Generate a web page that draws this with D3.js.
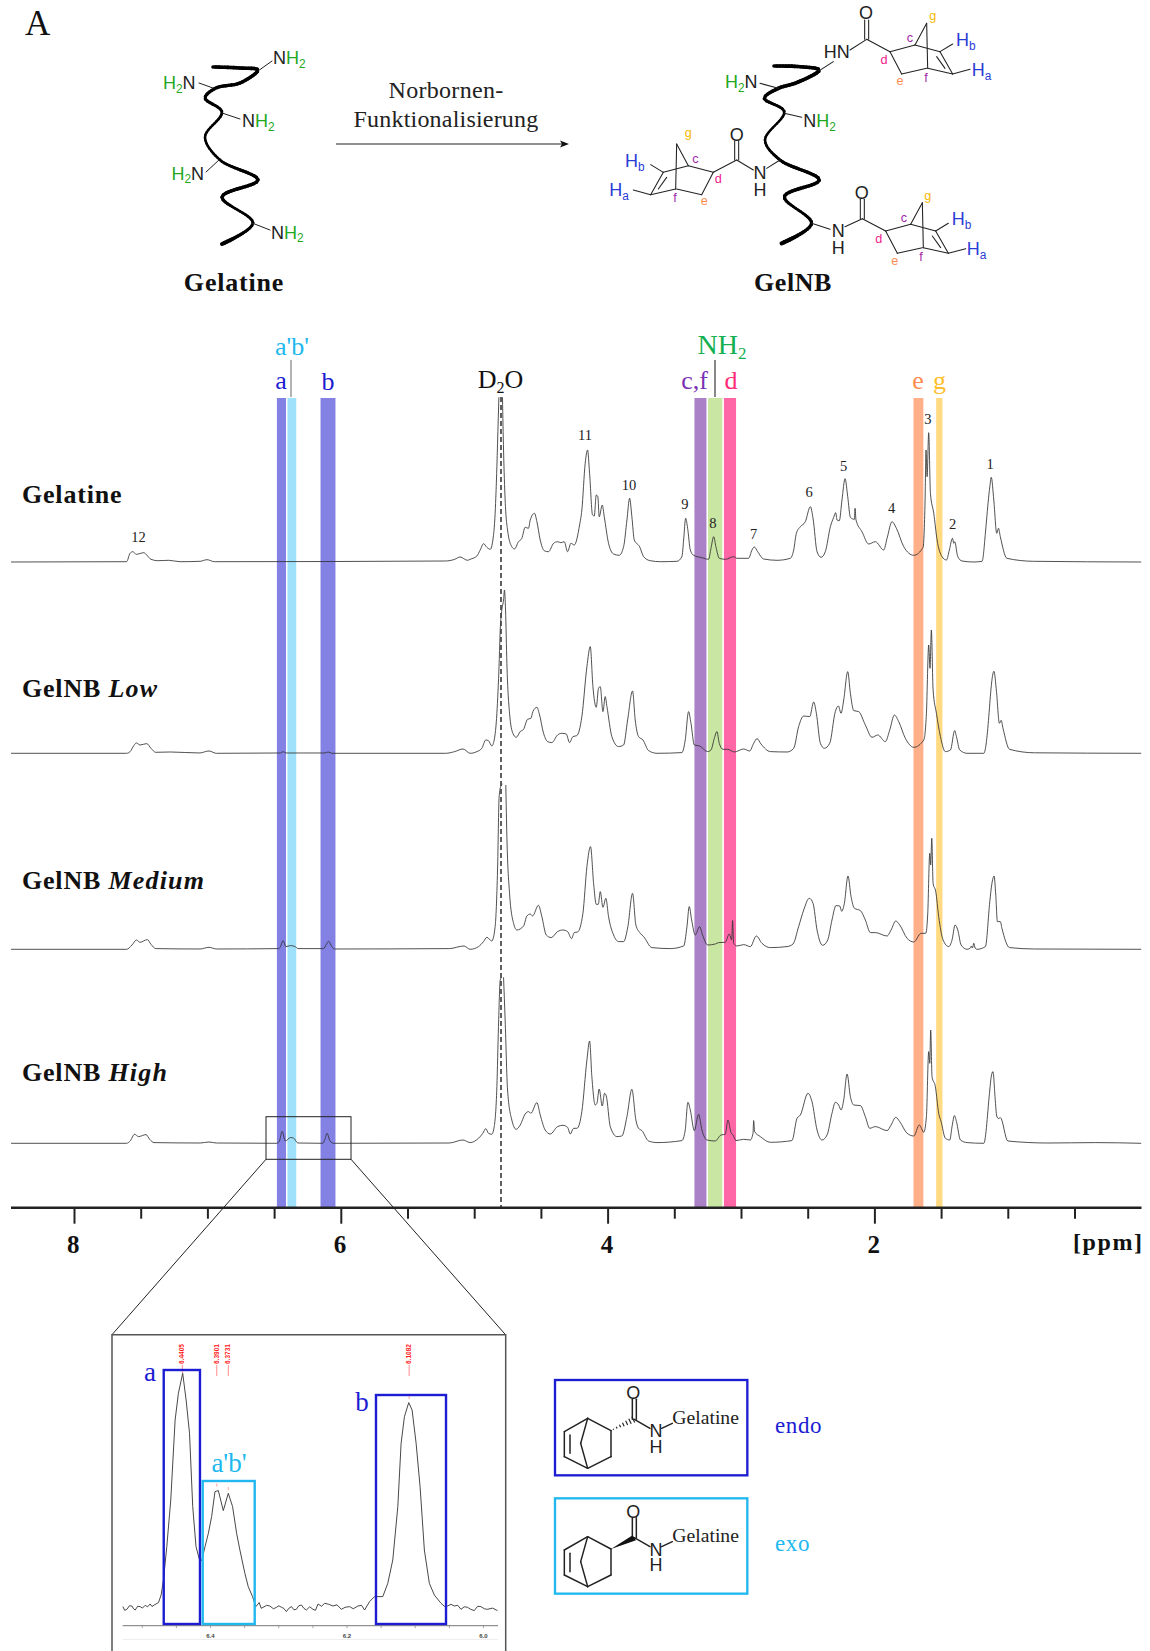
<!DOCTYPE html>
<html>
<head>
<meta charset="utf-8">
<title>GelNB NMR</title>
<script src="https://cdn.jsdelivr.net/npm/d3@7"></script>
<style>
  body { margin: 0; background: #fff; }
  svg { display: block; }
  text { font-family: "Liberation Serif", serif; }
  .chem text { font-family: "Liberation Sans", Arial, sans-serif; }
</style>
</head>
<body>
<script>
// chemical shift [ppm], intensity
// (a null intensity is a gap, the water peak is cut off at the top)
var gelatineSpectrum = [[8.472,0],[7.606,.3],[7.58,8.7],[7.56,10.3],[7.532,7.7],[7.477,9.3],[7.455,7],[7.423,2.7],[7.372,1.3],[7.29,1.7],[7.205,.3],[7.055,.7],[7.003,2.3],[6.947,.3],[5.215,1],[5.146,2.7],[5.106,5],[5.05,1.7],
[5.03,2.7],[4.98,6],[4.955,12],[4.93,18.3],[4.905,14.7],[4.88,12.7],[4.86,22],[4.843,48.7],[4.83,95.3],[4.82,142],[4.815,164.7],[4.8,null],[4.788,164.7],[4.78,112],[4.768,62],[4.75,32],[4.718,15.3],[4.698,13],[4.668,20.3],[4.643,23.7],[4.618,34.7],[4.593,33.7],[4.58,42],[4.548,48.7],[4.53,40.3],[4.505,22],[4.475,11.3],[4.443,10.3],[4.405,18.7],[4.375,20.3],[4.35,19.3],[4.325,20.3],[4.3,10.3],[4.275,18.7],[4.25,17],[4.21,37],[4.193,52],[4.168,98.7],[4.15,112],[4.135,88.7],[4.113,47],[4.1,46],[4.085,67],[4.073,65.3],[4.063,45.3],[4.04,57],[4.025,45.3],[3.993,18.7],[3.955,8],[3.913,6.7],[3.88,15.3],[3.855,42],[3.835,63.7],[3.818,45.3],[3.8,22],[3.76,15.3],[3.73,5.3],[3.68,1.3],[3.605,.3],[3.48,.7],[3.443,5.3],[3.43,22],[3.415,43.7],[3.4,33.7],[3.38,12],[3.355,6.7],[3.293,4.3],[3.243,2.7],[3.225,13.7],[3.205,25.3],[3.188,15.3],[3.163,3.7],[3.118,2.7],[3.055,5.3],[3.03,3.7],[2.943,3.7],[2.918,12],[2.9,15],[2.875,10.3],[2.83,3],[2.73,1.7],[2.63,3.7],[2.605,12],[2.585,28.7],[2.555,35.3],[2.518,40.3],[2.48,55.3],[2.46,43.7],[2.43,10.3],[2.4,4.7],[2.368,10.3],[2.33,35.3],[2.305,44.7],[2.29,49.3],[2.28,42],[2.263,41.3],[2.243,62],[2.22,83.3],[2.2,65.3],[2.18,44.7],[2.15,42.7],[2.145,53.7],[2.138,42],[2.093,30.3],[2.043,18],[1.993,20.3],[1.93,12],[1.905,23.7],[1.868,40.3],[1.835,33.7],[1.78,15.3],[1.705,6.7],[1.635,14.7],[1.62,62],[1.613,112],[1.605,85.3],[1.593,129.3],[1.58,68.7],[1.555,48.7],[1.53,22],[1.493,5.3],[1.46,2],[1.438,12],[1.415,23.7],[1.405,18.7],[1.398,20.3],[1.375,5.3],[1.343,1],[1.255,0],[1.193,.7],[1.168,28.7],[1.16,41],[1.135,75],[1.124,84.7],[1.105,62],[1.083,28.7],[1.07,33.7],[1.056,25.3],[1.007,3.7],[.808,.7],[0,0]];

var lowSpectrum = [[8.472,0],[7.606,0],[7.579,1.7],[7.552,7.7],[7.532,10.3],[7.505,8.3],[7.455,9.7],[7.423,5],[7.387,1],[7.277,1.3],[7.055,.3],[7.015,1.7],[6.988,2.3],[6.933,0],[6.452,.3],[6.433,1.7],[6.411,.3],[6.122,.3],[6.094,1.3],[6.067,0],[5.215,0],[5.146,1.7],[5.084,4.3],
[5.03,0],[4.98,1.7],[4.943,5],[4.913,13.3],[4.893,12.7],[4.868,7.3],[4.85,13.3],[4.83,40],[4.813,90],[4.805,123.3],[4.793,143.3],[4.78,153.3],[4.773,163.3],[4.765,143.3],[4.755,90],[4.735,40],[4.71,20],[4.685,16],[4.655,21.7],[4.63,24],[4.6,34],[4.575,35],[4.56,41.7],[4.53,46],[4.513,40],[4.48,20],[4.45,11.7],[4.418,10.7],[4.375,18.3],[4.343,20],[4.31,19.3],[4.285,10.7],[4.26,16.7],[4.23,17.7],[4.193,36.7],[4.155,86.7],[4.13,106.7],[4.11,66.7],[4.085,46],[4.068,65],[4.055,66.7],[4.035,41.7],[4.018,56.7],[4.005,46.7],[3.968,16.7],[3.918,6.7],[3.88,8.3],[3.85,33.3],[3.813,62.3],[3.793,33.3],[3.768,16.7],[3.735,13.3],[3.693,2.7],[3.63,0],[3.443,.7],[3.418,13.3],[3.393,41.7],[3.375,30],[3.35,8.3],[3.31,7.3],[3.25,1.7],[3.225,3.3],[3.2,15],[3.18,21.7],[3.163,10],[3.135,4],[3.1,4],[3.05,1.3],[2.98,4.3],[2.935,2.3],[2.905,10],[2.88,14.7],[2.85,9.3],[2.78,1.7],[2.655,1.3],[2.605,5],[2.568,26.7],[2.53,37.3],[2.485,36.7],[2.455,51.3],[2.435,40],[2.405,10],[2.375,5],[2.335,10],[2.293,41.7],[2.27,47.3],[2.25,40],[2.23,53.3],[2.2,81.7],[2.18,60],[2.155,42.7],[2.118,41.7],[2.068,28.3],[2.018,16],[1.975,18.3],[1.918,11.7],[1.885,23.3],[1.85,38.3],[1.818,31.7],[1.768,15],[1.705,6],[1.63,13.3],[1.61,40],[1.593,108.3],[1.583,85],[1.573,123.3],[1.56,63.3],[1.535,40],[1.505,16.7],[1.468,1.7],[1.43,3.3],[1.398,22.7],[1.385,16.7],[1.36,3.3],[1.305,0],[1.18,0],[1.14,41],[1.135,50],[1.104,82],[1.085,62],[1.063,30],[1.05,33],[1.036,25],[.987,4],[.8,.5],[0,0]];

var mediumSpectrum = [[8.472,0],[7.606,0],[7.565,4.3],[7.532,9.3],[7.505,7],[7.45,9.7],[7.423,5],[7.387,.7],[7.055,.3],[6.988,2],[6.933,.3],[6.465,.7],[6.452,2.7],[6.433,8.7],[6.411,2.7],[6.378,3.7],[6.342,2.7],[6.322,.7],[6.13,.7],[6.108,5],[6.092,8],[6.067,2.7],[6.048,.3],[5.187,.7],[5.077,3.3],
[5.03,0],[4.968,2.7],[4.93,7.7],[4.905,12],[4.868,8.3],[4.843,22.7],[4.825,79.3],[4.813,152.7],[4.8,163.3],[4.788,165.3],[4.775,null],[4.763,164.3],[4.755,112.7],[4.735,56],[4.705,26],[4.68,19.3],[4.63,23.3],[4.605,33.3],[4.58,35.3],[4.563,33.3],[4.518,44],[4.493,32.7],[4.46,14.3],[4.423,11.7],[4.375,17.7],[4.335,19.3],[4.3,17.7],[4.27,10.7],[4.25,16.7],[4.225,17.3],[4.185,36],[4.155,82.7],[4.128,102.7],[4.105,66],[4.085,45],[4.07,45],[4.055,57.7],[4.035,42],[4.013,51],[3.993,32.7],[3.955,14.3],[3.918,7.7],[3.88,7.7],[3.848,22.7],[3.813,56],[3.788,24.3],[3.755,16],[3.73,12.7],[3.668,1.7],[3.53,.7],[3.43,3.3],[3.405,22.7],[3.388,42.7],[3.37,29.3],[3.343,14.3],[3.31,22.7],[3.288,14.3],[3.25,4.3],[3.193,5.3],[3.168,6.7],[3.118,7],[3.088,15.3],[3.07,9.3],[3.063,28.7],[3.055,6],[3.03,3.3],[2.98,4.7],[2.93,2.7],[2.885,13.3],[2.843,6],[2.78,1.7],[2.655,2.7],[2.61,5.3],[2.568,22.7],[2.53,39.3],[2.488,51],[2.46,46],[2.43,19.3],[2.388,4],[2.35,9.3],[2.318,29.3],[2.288,43.7],[2.26,43.3],[2.245,38],[2.225,46],[2.198,73.3],[2.175,52.7],[2.15,41],[2.105,38.7],[2.068,29.3],[2.03,16.7],[1.993,16.7],[1.905,13.3],[1.875,19.3],[1.84,28.3],[1.81,24.3],[1.755,11],[1.705,7.3],[1.65,16],[1.615,16],[1.6,36],[1.585,96],[1.578,84.3],[1.57,111],[1.56,66],[1.54,57.7],[1.518,32.7],[1.485,9.3],[1.443,2.7],[1.418,9.3],[1.395,24.3],[1.375,19.3],[1.35,4.3],[1.305,0],[1.28,1.3],[1.273,3.3],[1.265,1.3],[1.255,6],[1.245,1.3],[1.23,0],[1.168,2.7],[1.135,47.7],[1.12,65],[1.103,73.3],[1.09,54],[1.078,27.7],[1.056,27.7],[1.044,21],[.987,1.7],[.8,.3],[0,0]];

var highSpectrum = [[8.472,0],[7.606,0],[7.579,2.3],[7.546,9],[7.516,6.7],[7.46,8.7],[7.433,4],[7.4,.7],[7.055,.3],[6.988,1.3],[6.933,.3],[6.479,0],[6.46,2.3],[6.44,12],[6.416,2.3],[6.378,5.7],[6.355,5.3],[6.322,.3],[6.136,0],[6.119,4],[6.103,10],[6.081,2.3],[6.053,0],[5.187,.3],[5.085,3.3],
[5.03,.7],[4.968,5],[4.935,10],[4.913,14.7],[4.893,10],[4.868,9],[4.85,16.7],[4.83,56.7],[4.818,116.7],[4.805,163.3],[4.795,166],[4.788,null],[4.78,166],[4.768,123.3],[4.75,53.3],[4.718,23.3],[4.685,14],[4.655,18.3],[4.618,29.3],[4.593,31.7],[4.575,30],[4.53,40.7],[4.505,28.3],[4.468,13.3],[4.43,9.3],[4.375,16.7],[4.335,18],[4.3,16],[4.28,9.3],[4.255,15],[4.23,15],[4.193,31.7],[4.155,83.3],[4.135,102.3],[4.118,66.7],[4.093,38.3],[4.08,40],[4.063,54.3],[4.04,37.3],[4.023,50],[4.01,47.3],[3.98,16.7],[3.93,6.7],[3.893,7.3],[3.855,26.7],[3.818,54],[3.788,23.3],[3.768,15],[3.743,12.7],[3.693,2.3],[3.63,.7],[3.443,2.7],[3.418,13.3],[3.398,41],[3.38,33.3],[3.35,12.7],[3.318,29],[3.293,13.3],[3.255,3.3],[3.193,2.3],[3.15,8.3],[3.118,9],[3.098,23.3],[3.075,10.7],[3.06,8.3],[3.038,2.7],[2.98,4],[2.93,3.3],[2.91,10],[2.905,22.7],[2.898,11.7],[2.855,6.7],[2.78,1],[2.618,2.7],[2.58,25],[2.555,28.3],[2.498,50],[2.468,41.7],[2.43,13.3],[2.393,3.3],[2.355,8.3],[2.318,30],[2.293,41],[2.268,38.3],[2.25,33.3],[2.23,43.3],[2.205,69.3],[2.18,46.7],[2.155,38.3],[2.105,37.7],[2.068,26.7],[2.035,15],[1.993,16.7],[1.905,12.7],[1.875,18.3],[1.84,26],[1.81,21.7],[1.755,10],[1.705,7.3],[1.663,18.3],[1.63,11],[1.61,26.7],[1.593,91.7],[1.585,80],[1.578,113.3],[1.568,66.7],[1.543,56.7],[1.518,30],[1.5,21.7],[1.468,5],[1.435,3.3],[1.418,16.7],[1.4,27.7],[1.385,21.7],[1.355,3.3],[1.305,.7],[1.18,0],[1.135,53.3],[1.125,66],[1.111,71.7],[1.095,45],[1.083,27.3],[1.07,24.7],[1.056,25.7],[1,2.3],[.7,.3],[.34,.7],[0,0]];

var spectra = [gelatineSpectrum, lowSpectrum, mediumSpectrum, highSpectrum];

// assigned regions
var bandNames = ["a", "a'b'", "b", "c,f", "NH2", "d", "e", "g"];
var bandFrom = [6.479, 6.4, 6.152, 3.349, 3.247, 3.128, 1.707, 1.537];
var bandTo = [6.411, 6.334, 6.04, 3.259, 3.14, 3.037, 1.633, 1.49];
var bandColors = ["#8381e4", "#9fe1fa", "#8381e4", "#aa80c6", "#c9e6a2", "#ff66a6", "#ffb089", "#ffda80"];

// numbered peaks
var peakLabels = ["12", "11", "10", "9", "8", "7", "6", "5", "4", "3", "2", "1"];
var peakPpm = [7.516, 4.17, 3.84, 3.42, 3.21, 2.905, 2.49, 2.23, 1.87, 1.6, 1.413, 1.133];
var peakHeights = [20, 122, 72, 53, 34, 23, 65.3, 91, 49, 138, 33, 93];

var axisTicks = [8, 7.5, 7, 6.5, 6, 5.5, 5, 4.5, 4, 3.5, 3, 2.5, 2, 1.5, 1, .5];
var majorTicks = [8, 6, 4, 2];

// inset, the region around the norbornene protons in GelNB High
var insetSpectrum = [[6.5276,.7],[6.525,-3],[6.5218,-2],[6.518,1.5],[6.5144,1.3],[6.512,-1.5],[6.5096,-2.7],[6.506,1],[6.5023,.7],[6.499,-.8],[6.495,2],[6.4915,.5],[6.4877,3.3],[6.485,.8],[6.4818,2.3],[6.4755,4.7],[6.4716,12.3],[6.4682,27.3],[6.4633,60.7],[6.4575,107.3],[6.4511,187.3],[6.4463,214],[6.44,234],[6.435,207.3],[6.43,174],[6.4253,100.7],[6.4205,60.7],[6.4156,48],[6.4122,46.7],[6.4073,60.7],[6.4024,74],[6.3976,90.7],[6.3927,115.7],[6.3878,116.7],[6.3805,96.7],[6.3732,114],[6.3669,100.7],[6.361,74],[6.3562,57.3],[6.3489,34],[6.344,20.7],[6.3377,10.7],[6.3328,.7],[6.3279,4.7],[6.325,-1],[6.3221,0],[6.317,2],[6.3123,1.3],[6.307,-1.5],[6.3026,0],[6.299,1.5],[6.2953,0],[6.292,-1],[6.288,-4.3],[6.2845,-1],[6.2807,.7],[6.277,-2.5],[6.2734,-2],[6.27,1.5],[6.266,2.3],[6.2625,-1],[6.2588,-2.7],[6.254,.5],[6.249,-2],[6.2455,-3],[6.2417,3.3],[6.2365,1],[6.232,4],[6.226,3],[6.2198,1.3],[6.214,2.5],[6.2076,-2],[6.202,0],[6.1955,.7],[6.19,-1.5],[6.1833,1.3],[6.178,2],[6.1735,-2.7],[6.1662,5.7],[6.1589,10.7],[6.1468,10.7],[6.1395,24],[6.1322,47.3],[6.1248,100.7],[6.12,164],[6.1151,190.7],[6.1088,204.7],[6.1039,197.3],[6.098,164],[6.0922,120.7],[6.0859,57.3],[6.0786,24],[6.0713,12.3],[6.0615,4],[6.0565,1],[6.0518,1.3],[6.047,3],[6.042,1.3],[6.037,2],[6.0323,-2],[6.0275,.5],[6.0226,0],[6.018,-2],[6.0128,-3.3],[6.008,1],[6.0031,.7],[5.998,-1.5],[5.9934,-2],[5.986,-.8],[5.9788,-3.3]];
var insetTicks = [6.5, 6.45, 6.4, 6.35, 6.3, 6.25, 6.2, 6.15, 6.1, 6.05, 6];
var insetPeaks = [6.4405, 6.3901, 6.3731, 6.1082];

var blue = "#1c1cd2", cyan = "#20b8ee", atomGreen = "#22a81e", atomBlue = "#2a3cd6",
    purple = "#a01fa8", pink = "#f0208c", orange = "#ff8c50", yellow = "#f8b800";

var svg = d3.select("body").append("svg").attr("width", 1150).attr("height", 1651);

// ---- main spectra ----
var x = d3.scaleLinear().domain([8, 0]).range([74, 1141.2]);
var y = d3.scaleLinear().domain([0, 170]).range([0, -170]);
var baselines = [562, 753.3, 949.3, 1143.3];
var axisY = 1207.7;

svg.append("g").selectAll("rect")
  .data(bandNames)
  .join("rect")
    .attr("x", (d, i) => x(bandFrom[i]))
    .attr("y", 398)
    .attr("width", (d, i) => x(bandTo[i]) - x(bandFrom[i]))
    .attr("height", axisY - 398)
    .attr("fill", (d, i) => bandColors[i]);

var line = d3.line()
  .defined(d => d[1] !== null)
  .curve(d3.curveMonotoneX)
  .x(d => x(d[0])).y(d => y(d[1]));

svg.append("g").selectAll("path")
  .data(spectra)
  .join("path")
    .attr("transform", (d, i) => "translate(0," + baselines[i] + ")")
    .attr("d", line)
    .attr("fill", "none")
    .attr("stroke", "#333")
    .attr("stroke-opacity", .85)
    .attr("stroke-width", 1);

// water line
svg.append("line")
  .attr("x1", 501).attr("x2", 501).attr("y1", 397).attr("y2", axisY)
  .attr("stroke", "#444").attr("stroke-width", 1.7).attr("stroke-dasharray", "5,3");

// axis
var axisG = svg.append("g")
  .attr("transform", "translate(0," + axisY + ")")
  .call(d3.axisBottom(x).tickValues(axisTicks).tickSize(10).tickFormat(d => majorTicks.includes(d) ? d : ""));
axisG.select(".domain").remove();
axisG.append("line").attr("x1", 11).attr("x2", 1141.5).attr("stroke", "#222").attr("stroke-width", 2.4);
axisG.selectAll(".tick line")
  .attr("y2", d => majorTicks.includes(d) ? 16 : 11)
  .attr("stroke", "#222").attr("stroke-width", 2);
axisG.selectAll(".tick text")
  .attr("x", -1.2).attr("y", 29).attr("dy", 16)
  .attr("font-size", 25).attr("font-weight", "bold").attr("fill", "#111");

svg.append("text").attr("x", 1073).attr("y", 1250)
  .attr("font-size", 24).attr("font-weight", "bold").attr("letter-spacing", 1.6).attr("fill", "#111")
  .text("[ppm]");

// numbers above peaks
svg.append("g").selectAll("text")
  .data(peakLabels)
  .join("text")
    .attr("x", (d, i) => x(peakPpm[i]))
    .attr("y", (d, i) => baselines[0] + y(peakHeights[i]))
    .attr("text-anchor", "middle")
    .attr("font-size", 14.5)
    .attr("fill", "#222")
    .text(d => d);

// spectrum names
var names = [["Gelatine", "", 503], ["GelNB ", "Low", 696.5], ["GelNB ", "Medium", 889], ["GelNB ", "High", 1081]];
names.forEach(function(n) {
  var t = svg.append("text").attr("x", 22).attr("y", n[2])
    .attr("font-size", 26).attr("font-weight", "bold").attr("letter-spacing", .8).attr("fill", "#111");
  t.append("tspan").text(n[0]);
  t.append("tspan").attr("font-style", "italic").attr("letter-spacing", 1.2).text(n[1]);
});

// header labels over the bands
function headLabel(txt, cx, by, color) {
  return svg.append("text").attr("x", cx).attr("y", by).attr("text-anchor", "middle")
    .attr("font-size", 26).attr("fill", color).text(txt);
}
headLabel("a'b'", 292, 355, cyan);
headLabel("a", 281, 389, blue);
headLabel("b", 328, 389.5, blue);
headLabel("c,f", 694.5, 389, "#7a30b4");
headLabel("d", 731, 389, "#ff2a78");
headLabel("e", 918, 389, orange);
headLabel("g", 939.5, 389, "#ffc030");

var d2o = svg.append("text").attr("x", 500.5).attr("y", 387.5).attr("text-anchor", "middle")
  .attr("font-size", 26).attr("fill", "#111");
d2o.append("tspan").text("D");
d2o.append("tspan").attr("font-size", 16).attr("dy", 5).text("2");
d2o.append("tspan").attr("dy", -5).text("O");

var nh2 = svg.append("text").attr("x", 722).attr("y", 354).attr("text-anchor", "middle")
  .attr("font-size", 28).attr("fill", "#12b050");
nh2.append("tspan").text("NH");
nh2.append("tspan").attr("font-size", 17).attr("dy", 5).text("2");

[[291, .9], [715, 1.4]].forEach(function(p) {
  svg.append("line").attr("x1", p[0]).attr("x2", p[0]).attr("y1", 360).attr("y2", 397)
    .attr("stroke", "#555").attr("stroke-width", p[1]);
});

// box and the lines to the inset
svg.append("rect").attr("x", 266).attr("y", 1116.7).attr("width", 85).attr("height", 42.6)
  .attr("fill", "none").attr("stroke", "#222").attr("stroke-width", 1);
[[266, 112], [351, 505.5]].forEach(function(p) {
  svg.append("line").attr("x1", p[0]).attr("y1", 1159.3).attr("x2", p[1]).attr("y2", 1334.7)
    .attr("stroke", "#222").attr("stroke-width", 1);
});

// ---- inset ----
var ix = d3.scaleLinear().domain([6.4, 6]).range([210, 483]);
var iy = d3.scaleLinear().domain([0, 240]).range([1607.3, 1367.3]);
var inset = svg.append("g");

inset.append("path")
  .attr("d", "M112,1651V1334.7H505.7V1651")
  .attr("fill", "none").attr("stroke", "#555").attr("stroke-width", 1.5);

inset.append("path")
  .datum(insetSpectrum)
  .attr("d", d3.line().x(d => ix(d[0])).y(d => iy(d[1])))
  .attr("fill", "none").attr("stroke", "#333").attr("stroke-width", .9);

var insetAxis = inset.append("g").attr("transform", "translate(0,1625.7)")
  .call(d3.axisBottom(ix).tickValues(insetTicks).tickSize(2.5)
    .tickFormat(d => [6.4, 6.2, 6].includes(d) ? d3.format(".1f")(d) : ""));
insetAxis.select(".domain").remove();
insetAxis.append("line").attr("x1", 122.7).attr("x2", 498).attr("stroke", "#777").attr("stroke-width", 1);
insetAxis.selectAll(".tick line").attr("stroke", "#888").attr("stroke-width", .7);
insetAxis.selectAll(".tick text").attr("y", 7).attr("dy", 5)
  .attr("font-size", 6).attr("font-weight", "bold").style("font-family", "Liberation Sans").attr("fill", "#444");
inset.append("line").attr("x1", 122.7).attr("x2", 498).attr("y1", 1639.5).attr("y2", 1639.5)
  .attr("stroke", "#eee").attr("stroke-width", 1);

var peakTops = [1373, 1489.5, 1493, 1402];
insetPeaks.forEach(function(p, i) {
  var px = ix(p);
  inset.append("line").attr("x1", px).attr("x2", px).attr("y1", 1365).attr("y2", i == 0 ? 1373 : 1376)
    .attr("stroke", "#ff5a5a").attr("stroke-width", .7);
  if (i > 0) {
    inset.append("line").attr("x1", px).attr("x2", px).attr("y1", peakTops[i] - 6).attr("y2", peakTops[i] - 3)
      .attr("stroke", "#ff7a7a").attr("stroke-width", .7);
  }
  inset.append("text").attr("transform", "translate(" + (px + 2) + ",1364) rotate(-90)")
    .attr("font-size", 6.5).attr("font-weight", "bold").style("font-family", "Liberation Sans")
    .attr("fill", "#ff2020").text(p.toFixed(4));
});

// boxes around the peaks: ppm left, ppm right, top, colour
var insetBoxes = [[6.4678, 6.4147, 1370, blue], [6.4107, 6.3345, 1481, cyan], [6.1568, 6.0542, 1395, blue]];
insetBoxes.forEach(function(b) {
  inset.append("rect").attr("x", ix(b[0])).attr("y", b[2])
    .attr("width", ix(b[1]) - ix(b[0])).attr("height", 1624 - b[2])
    .attr("fill", "none").attr("stroke", b[3]).attr("stroke-width", 2.4);
});
[["a", 150, 1381, blue], ["a'b'", 229, 1471.5, cyan], ["b", 362, 1411, blue]].forEach(function(l) {
  inset.append("text").attr("x", l[1]).attr("y", l[2]).attr("text-anchor", "middle")
    .attr("font-size", 27).attr("fill", l[3]).text(l[0]);
});

// ---- structures ----
function bonds(g, list, w) {
  g.selectAll(null).data(list).join("line")
    .attr("x1", d => d[0]).attr("y1", d => d[1]).attr("x2", d => d[2]).attr("y2", d => d[3])
    .attr("stroke", "#222").attr("stroke-width", w).attr("stroke-linecap", "round");
}

// parts: text, colour, is subscript
function atoms(g, tx, ty, parts, size, anchor) {
  var t = g.append("text").attr("x", tx).attr("y", ty).attr("font-size", size)
    .attr("text-anchor", anchor || "start");
  var down = false;
  parts.forEach(function(p) {
    var s = t.append("tspan").attr("fill", p[1]).text(p[0]);
    if (p[2]) { s.attr("font-size", size * .66).attr("dy", size * .22); down = true; }
    else if (down) { s.attr("dy", -size * .22); down = false; }
  });
}

// backbone with changing thickness
function chain(g, pts, widths) {
  var p = g.append("path").attr("fill", "none").attr("stroke", "none")
    .attr("d", d3.line().curve(d3.curveCatmullRom.alpha(.5))(pts));
  var node = p.node(), len = node.getTotalLength(), n = 120;
  var w = d3.scaleLinear().domain(widths.map((d, i) => i / (widths.length - 1))).range(widths);
  for (var i = 0; i < n; i++) {
    var a = node.getPointAtLength(len * i / n), b = node.getPointAtLength(len * (i + 1) / n);
    g.append("line").attr("x1", a.x).attr("y1", a.y).attr("x2", b.x).attr("y2", b.y)
      .attr("stroke", "#000").attr("stroke-width", w(i / n)).attr("stroke-linecap", "round");
  }
}

svg.append("text").attr("x", 25).attr("y", 34.5).attr("font-size", 35).attr("fill", "#111").text("A");

// gelatine
var gel = svg.append("g").attr("class", "chem");
chain(gel, [[213,67],[240,68],[258,70],[240,83],[216,88],[205,98],[222,112],[205,137],[220,160],[258,180],[222,197],[253,223],[222,244]],
  [3.6, 3.6, 3.4, 3.4, 3, 2.5, 2.5, 3, 3.4, 3.6, 2.5, 3, 4.2]);
bonds(gel, [[258,71,272,61],[213,88,199,83],[222,113,240,119],[219,160,206,172],[252,223,270,230]], 1);
var fs = 18;
atoms(gel, 273, 64, [["N","#222"],["H",atomGreen],["2",atomGreen,1]], fs);
atoms(gel, 163, 89, [["H",atomGreen],["2",atomGreen,1],["N","#222"]], fs);
atoms(gel, 242, 127, [["N","#222"],["H",atomGreen],["2",atomGreen,1]], fs);
atoms(gel, 171.5, 179.5, [["H",atomGreen],["2",atomGreen,1],["N","#222"]], fs);
atoms(gel, 271, 238.5, [["N","#222"],["H",atomGreen],["2",atomGreen,1]], fs);

svg.append("text").attr("x", 234).attr("y", 291).attr("text-anchor", "middle")
  .attr("font-size", 26).attr("font-weight", "bold").attr("letter-spacing", .8).attr("fill", "#111").text("Gelatine");
svg.append("text").attr("x", 793).attr("y", 291).attr("text-anchor", "middle")
  .attr("font-size", 26).attr("font-weight", "bold").attr("letter-spacing", .6).attr("fill", "#111").text("GelNB");

// arrow
svg.append("text").attr("x", 446).attr("y", 98).attr("text-anchor", "middle")
  .attr("font-size", 24).attr("letter-spacing", .3).attr("fill", "#222").text("Norbornen-");
svg.append("text").attr("x", 446).attr("y", 127).attr("text-anchor", "middle")
  .attr("font-size", 24).attr("letter-spacing", .2).attr("fill", "#222").text("Funktionalisierung");
svg.append("line").attr("x1", 336).attr("x2", 562).attr("y1", 144).attr("y2", 144)
  .attr("stroke", "#222").attr("stroke-width", 1.2);
svg.append("path").attr("d", "M569,144L560,140.5L562,144L560,147.5Z").attr("fill", "#111");

// GelNB, drawn on a 3x grid
var nb = svg.append("g").attr("class", "chem").attr("transform", "translate(590,0) scale(0.33333)");
chain(nb, [[552,198],[630,200],[688,210],[620,248],[565,265],[523,295],[583,335],[525,420],[570,480],[688,540],[583,590],[665,670],[575,730]],
  [11, 11, 11, 11, 9, 7, 8, 10, 10, 11, 8, 10, 13]);

var norbornene = [[830,118,900,155],[900,155,975,135],[900,155,935,222],[935,222,1010,205],[975,135,1010,70],[1010,70,1013,205],
  [975,135,1050,155],[1050,155,1088,222],[1040,170,1065,205],[1013,205,1088,222],[1050,155,1088,132],[1088,222,1140,208],
  [824,118,824,60],[836,118,836,60]];
bonds(nb, norbornene, 3.2);
bonds(nb.append("g").attr("transform", "translate(-13,538)"), norbornene, 3.2);
bonds(nb.append("g").attr("transform", "translate(1270,362) scale(-1,1)"), norbornene, 3.2);
bonds(nb, [[688,212,730,185],[780,150,830,118],[510,250,565,265],[583,340,635,352],[440,480,490,510],[530,505,570,480],
  [665,670,720,688],[765,680,817,656]], 3.2);

var dark = "#222", big = 54, small = 38;
atoms(nb, 740, 175, [["HN",dark]], big, "middle");
atoms(nb, 828, 58, [["O",dark]], big, "middle");
atoms(nb, 405, 265, [["H",atomGreen],["2",atomGreen,1],["N",dark]], big);
atoms(nb, 640, 380, [["N",dark],["H",atomGreen],["2",atomGreen,1]], big);
atoms(nb, 440, 422, [["O",dark]], big, "middle");
atoms(nb, 510, 537, [["N",dark]], big, "middle");
atoms(nb, 510, 587, [["H",dark]], big, "middle");
atoms(nb, 815, 598, [["O",dark]], big, "middle");
atoms(nb, 745, 712, [["N",dark]], big, "middle");
atoms(nb, 745, 762, [["H",dark]], big, "middle");

var nbLabels = [
  [1028,60,"g",yellow],[960,125,"c",purple],[882,192,"d",pink],[930,255,"e",orange],[1008,245,"f",purple],
  [1013,600,"g",yellow],[942,665,"c",purple],[866,730,"d",pink],[914,795,"e",orange],[993,782,"f",purple],
  [295,412,"g",yellow],[316,490,"c",purple],[385,550,"d",pink],[343,615,"e",orange],[255,607,"f",purple]];
nbLabels.forEach(function(l) { atoms(nb, l[0], l[1], [[l[2], l[3]]], small, "middle"); });

[[1098,138,"b"],[1145,228,"a"],[1085,675,"b"],[1130,765,"a"],[105,500,"b"],[58,588,"a"]].forEach(function(h) {
  atoms(nb, h[0], h[1], [["H",atomBlue],[h[2],atomBlue,1]], big);
});

// endo and exo
var pair = svg.append("g").attr("class", "chem").attr("transform", "translate(540,1360) scale(0.33333)");
[[60, blue, "endo"], [415, cyan, "exo"]].forEach(function(row, k) {
  var g = pair.append("g").attr("transform", "translate(0," + (row[0] - 60) + ")");
  g.append("rect").attr("x", 45).attr("y", 60).attr("width", 577).attr("height", 286)
    .attr("fill", "none").attr("stroke", row[1]).attr("stroke-width", 7);
  bonds(g, [[73,215,143,175],[143,175,213,212],[213,212,213,290],[213,290,143,325],[143,325,73,290],[73,290,73,215],
    [90,225,90,280],[143,175,122,250],[122,250,143,325],[283,178,330,205],[365,205,397,190],[277,178,277,118],[289,178,289,118]], 4.5);
  if (k == 0) {
    d3.range(7).forEach(function(i) {
      var t = i / 6, cx = 220 + t * 60, cy = 208 - t * 29, h = 1.5 + t * 8;
      g.append("line").attr("x1", cx - h * .45).attr("y1", cy - h * .9).attr("x2", cx + h * .45).attr("y2", cy + h * .9)
        .attr("stroke", "#222").attr("stroke-width", 3.5);
    });
  } else {
    g.append("path").attr("d", "M213,212L278,171L288,186Z").attr("fill", "#111");
  }
  atoms(g, 280, 118, [["O",dark]], 54, "middle");
  atoms(g, 348, 232, [["N",dark]], 54, "middle");
  atoms(g, 348, 278, [["H",dark]], 54, "middle");
  g.append("text").attr("x", 397).attr("y", 192).attr("font-size", 59).attr("fill", "#222")
    .style("font-family", "'Liberation Serif',serif").text("Gelatine");
});
svg.append("text").attr("x", 775).attr("y", 1433).attr("font-size", 23).attr("letter-spacing", .6).attr("fill", blue).text("endo");
svg.append("text").attr("x", 775).attr("y", 1551).attr("font-size", 23).attr("letter-spacing", .6).attr("fill", cyan).text("exo");
</script>
</body>
</html>
